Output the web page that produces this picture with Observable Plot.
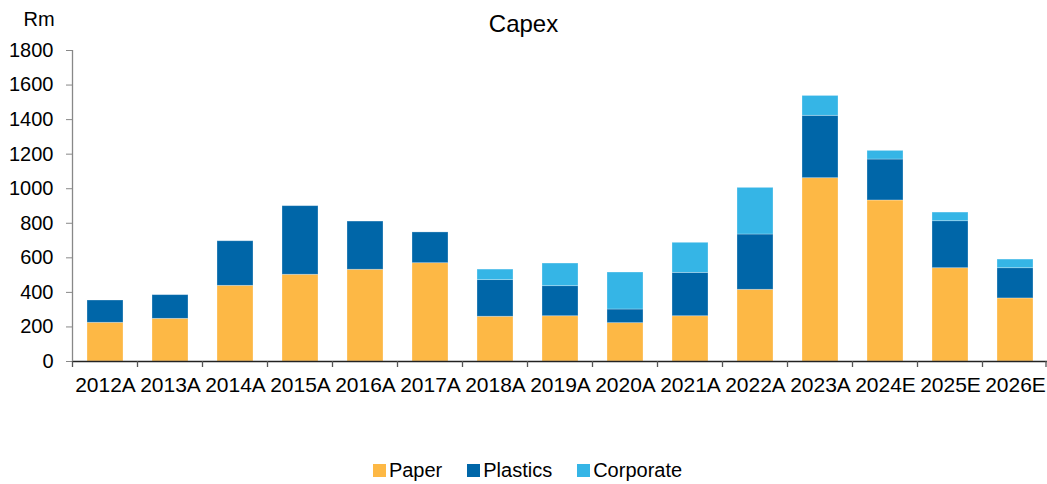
<!DOCTYPE html>
<html>
<head>
<meta charset="utf-8">
<script src="https://cdn.jsdelivr.net/npm/d3@7"></script>
<script src="https://cdn.jsdelivr.net/npm/@observablehq/plot@0.6"></script>
<style>
  html, body { margin: 0; padding: 0; background: #fff; }
  #wrap { position: relative; width: 1047px; height: 484px; font-family: "Liberation Sans", Arial, sans-serif; color: #000; }
  #title { position: absolute; top: 10px; left: 0; width: 1047px; text-align: center; font-size: 24px; line-height: 28px; }
  #legend { display: flex; justify-content: center; align-items: center; gap: 25px; font-size: 20px; height: 44px; padding-top: 8px; padding-left: 8px; }
  #legend .item { display: flex; align-items: center; }
  #legend .sw { width: 13px; height: 13px; margin-right: 3px; display: inline-block; }
</style>
</head>
<body>
<div id="wrap">
  <div id="chart"></div>
  <div id="legend"></div>
  <div id="title">Capex</div>
</div>
<script>
const categories = ["2012A","2013A","2014A","2015A","2016A","2017A","2018A","2019A","2020A","2021A","2022A","2023A","2024E","2025E","2026E"];
const paper     = [224, 247, 438, 502, 531, 569, 259, 262, 222, 262, 415, 1061, 932, 540, 365];
const plastics  = [129, 137, 258, 397, 279, 178, 212, 174,  79, 251, 320,  361, 237, 272, 175];
const corporate = [  0,   0,   0,   0,   0,   0,  61, 131, 214, 174, 270,  115,  50,  50,  50];
const seriesNames = ["Paper", "Plastics", "Corporate"];
const seriesColors = ["#FDB845", "#0066A8", "#35B5E6"];
const yTicks = [0, 200, 400, 600, 800, 1000, 1200, 1400, 1600, 1800];
const yUnit = "Rm";

const seriesValues = [paper, plastics, corporate];
const data = categories.flatMap((c, i) =>
  seriesNames.map((s, j) => ({category: c, series: s, value: seriesValues[j][i]}))
);

const chart = Plot.plot({
  width: 1047,
  height: 440,
  marginTop: 50,
  marginBottom: 79,
  marginLeft: 72,
  marginRight: 0,
  style: {fontFamily: "'Liberation Sans', Arial, sans-serif", fontSize: "20px", color: "#000", background: "#fff", overflow: "visible"},
  x: {domain: categories, paddingInner: 0.45, paddingOuter: 0.225},
  y: {domain: [0, 1800]},
  color: {domain: seriesNames, range: seriesColors},
  marks: [
    Plot.barY(data, {x: "category", y: "value", fill: "series", order: seriesNames,
      stroke: "#fff", strokeOpacity: 0.35, strokeWidth: 0.8}),
    Plot.axisY({ticks: yTicks, tickFormat: d => String(d), tickSize: 6, tickPadding: 13, stroke: "#888", fill: "#000", label: null}),
    Plot.axisX({tickSize: 0, tickPadding: 16, label: null, fill: "#000", fontSize: "21px"}),
    Plot.text([yUnit], {text: d => d, frameAnchor: "top-left", dx: -49, dy: -39, textAnchor: "start", lineAnchor: "top", fill: "#000", fontSize: "20px"}),
    Plot.ruleY([0], {stroke: "#222", strokeWidth: 1.3})
  ]
});
document.getElementById("chart").appendChild(chart);

// y-axis line and category boundary ticks, positioned from the Plot scales
const xs = chart.scale("x"), ys = chart.scale("y");
const svg = d3.select(chart);
const step = xs.step, bw = xs.bandwidth;
const bounds = categories.map(c => xs.apply(c) - (step - bw) / 2);
bounds.push(bounds[bounds.length - 1] + step);
const y0 = ys.apply(0), yTop = ys.apply(1800);
svg.append("line").attr("x1", bounds[0]).attr("x2", bounds[0]).attr("y1", yTop).attr("y2", y0)
  .attr("stroke", "#888").attr("stroke-width", 1.3);
svg.append("g").selectAll("line").data(bounds).join("line")
  .attr("x1", d => Math.min(d, 1046)).attr("x2", d => Math.min(d, 1046))
  .attr("y1", y0).attr("y2", y0 + 6).attr("stroke", "#555").attr("stroke-width", 1.3);

// legend
const lg = d3.select("#legend");
seriesNames.forEach((s, i) => {
  const it = lg.append("div").attr("class", "item");
  it.append("span").attr("class", "sw").style("background", seriesColors[i]);
  it.append("span").text(s);
});
</script>
</body>
</html>
